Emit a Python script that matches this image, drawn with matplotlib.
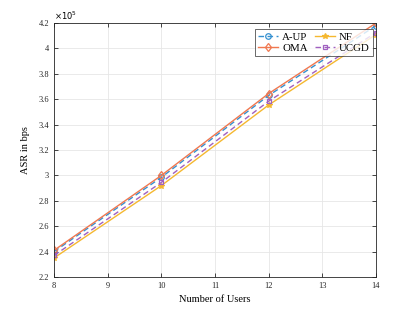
import numpy as np
import matplotlib
matplotlib.use("Agg")
import matplotlib.pyplot as plt

plt.rcParams['font.family'] = ['Liberation Serif', 'DejaVu Serif']

# Number of users
users = [8, 10, 12, 14]

# ASR values (x 1e5 bps)
a_up = [2.40, 2.985, 3.63, 4.18]
oma = [2.41, 3.00, 3.645, 4.20]
nf = [2.35, 2.92, 3.555, 4.11]
ucgd = [2.37, 2.945, 3.585, 4.125]

fig = plt.figure(figsize=(4.15, 3.12), dpi=100)
ax = fig.add_axes([0.130, 0.112, 0.776, 0.814])

ax.plot(users, a_up, '--o', color='#3590d0', lw=1.0, ms=4, mfc='none', mew=0.9,
        dashes=(4, 2.5), label='A-UP')
ax.plot(users, oma, '-d', color='#f07850', lw=1.0, ms=4.5, mfc='none', mew=0.9, label='OMA')
ax.plot(users, nf, '-*', color='#f5b830', lw=1.0, ms=4, mew=0.9, label='NF')
ax.plot(users, ucgd, '--s', color='#a060c0', lw=1.0, ms=3.5, mfc='none', mew=0.9,
        dashes=(4, 2.5), label='UCGD')

ax.set_xlim(8, 14)
ax.set_ylim(2.2, 4.2)
ax.set_xticks(np.arange(8, 15, 1))
ax.set_yticks(np.arange(2.2, 4.21, 0.2))
ax.set_yticklabels(['2.2', '2.4', '2.6', '2.8', '3', '3.2', '3.4', '3.6', '3.8', '4', '4.2'])
ax.tick_params(labelsize=6, direction='in', length=3, width=0.6, colors='#262626',
               top=True, right=True)
ax.grid(True, color='#e6e6e6', lw=0.6)
ax.set_axisbelow(True)
for s in ax.spines.values():
    s.set_linewidth(0.6)
    s.set_color('#262626')

ax.text(0.0, 1.005, r'$\times10^5$', transform=ax.transAxes, fontsize=6, ha='left', va='bottom')
ax.set_xlabel('Number of Users', fontsize=7.5, labelpad=4)
ax.set_ylabel('ASR in bps', fontsize=7.5, labelpad=6)

leg = ax.legend(ncol=2, loc='upper right', fontsize=7.8, handlelength=1.8, columnspacing=0.7,
                handletextpad=0.4, borderpad=0.3, labelspacing=0.1, fancybox=False,
                borderaxespad=0, bbox_to_anchor=(0.991, 0.976))
leg.get_frame().set_edgecolor('#262626')
leg.get_frame().set_linewidth(0.6)

fig.savefig('out.png', dpi=100)
